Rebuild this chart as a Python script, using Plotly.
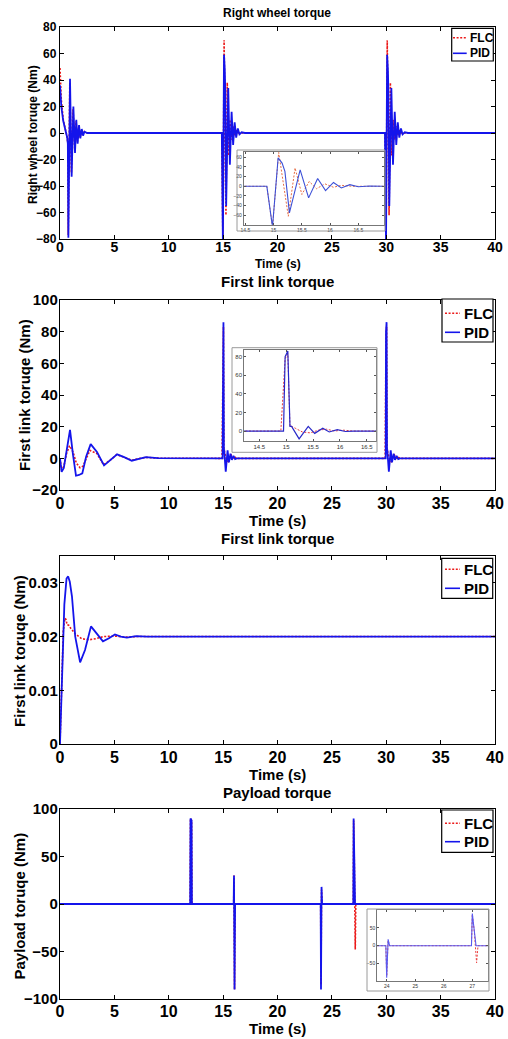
import plotly.graph_objects as go

W, H = 508, 1039
FONT = "Liberation Sans"

# ---------------- data ----------------
x_ticks = [0, 5, 10, 15, 20, 25, 30, 35, 40]

# Right wheel torque: start transient
rw_start_t_flc = [0, 0.12, 0.3, 0.5, 0.65, 0.72, 0.76, 0.9, 1.05, 1.2, 1.35, 1.48, 1.6, 1.72, 1.85, 1.98, 2.1, 2.25, 2.5, 3.0]
rw_start_flc = [49, 25, 10, 3, -3, -8, -77, 38, -30, 18, -13, 9, -7, 5, -3.5, 2.5, -1.5, 1, 0, 0]
rw_start_t_pid = [0, 0.12, 0.3, 0.5, 0.65, 0.72, 0.77, 0.92, 1.07, 1.23, 1.38, 1.5, 1.62, 1.75, 1.87, 2.0, 2.12, 2.25, 2.5, 3.0]
rw_start_pid = [36, 20, 9, 3, -3, -8, -79, 41, -33, 20, -15, 10, -8, 6, -4, 3, -2, 1, 0, 0]
# Right wheel torque: response to each disturbance (time relative to event)
rw_events = [15, 30]
rw_ev_t_flc = [-0.12, -0.02, 0.09, 0.26, 0.38, 0.5, 0.63, 0.76, 0.91, 1.06, 1.2, 1.4, 2.0]
rw_ev_flc = [0, -84, 70, -62, 38, -17, 10, -5, 5, -2, 2, 0, 0]
rw_ev_t_pid = [-0.12, -0.02, 0.08, 0.15, 0.2, 0.28, 0.47, 0.62, 0.78, 0.92, 1.06, 1.2, 1.35, 1.5, 1.7, 2.0]
rw_ev_pid = [0, -84, 59, 48, 31, -55, 34, -24, 16, -9, 8, -3.5, 3.4, -1, 0.5, 0]
rw_y_ticks = [-80, -60, -40, -20, 0, 20, 40, 60, 80]
rw_inset_x_ticks = [14.5, 15, 15.5, 16, 16.5]
rw_inset_y_ticks = [-80, -60, -40, -20, 0, 20, 40, 60]

# First link torque
fl_start_t_flc = [0, 0.15, 0.35, 0.6, 0.88, 1.2, 1.5, 1.84, 2.1, 2.4, 2.75, 3.4, 4.0, 4.65, 5.2, 5.9, 6.6, 7.25, 7.9, 9.0, 10.0]
fl_start_flc = [0, -7.5, -5, 3, 8, 4, -3, -6, -5, 0, 5, 3, -4, -1, 2.3, 0.7, -1.2, -0.2, 0.6, 0.1, 0]
fl_start_t_pid = [0, 0.15, 0.35, 0.6, 0.92, 1.2, 1.47, 1.75, 2.05, 2.4, 2.82, 3.4, 4.05, 4.65, 5.25, 5.9, 6.6, 7.25, 7.9, 9.0, 10.0]
fl_start_pid = [0, -8.5, -6, 5, 18, 2, -11, -10.5, -9.5, 1, 9, 4, -4.5, -1, 2.5, 0.8, -1.5, -0.3, 0.8, 0.1, 0]
fl_events = [15, 30]
fl_ev_t_flc = [-0.5, -0.1, -0.02, 0.03, 0.07, 0.1, 0.17, 0.3, 0.45, 0.6, 0.75, 0.9, 1.05, 1.25, 1.6]
fl_ev_flc = [0, 0, 78, 83, 5, 5, 3, -1, -2, 1, 2, 0, 1, 0, 0]
fl_ev_t_pid = [-0.5, -0.05, -0.02, 0.0, 0.03, 0.07, 0.1, 0.24, 0.41, 0.53, 0.68, 0.8, 0.95, 1.1, 1.25, 1.6]
fl_ev_pid = [0, 0, 80, 82, 86, 5, 5, -8.5, 5, -2.5, 3, -1, 1.5, -0.5, 0, 0]
fl_y_ticks = [-20, 0, 20, 40, 60, 80, 100]
fl_inset_x_ticks = [14.5, 15, 15.5, 16, 16.5]
fl_inset_y_ticks = [0, 20, 40, 60, 80]

# First link torque (small scale)
fs_t_flc = [0, 0.15, 0.3, 0.45, 0.55, 0.65, 0.8, 1.0, 1.4, 2.0, 2.7, 3.3, 4.0, 5.0, 6.0, 7.0, 40]
fs_flc = [0, 0.01, 0.021, 0.0234, 0.0232, 0.0222, 0.0221, 0.0215, 0.0205, 0.0196, 0.0194, 0.0196, 0.02, 0.0201, 0.0199, 0.02, 0.02]
fs_t_pid = [0, 0.2, 0.4, 0.6, 0.75, 0.9, 1.1, 1.4, 1.85, 2.3, 2.85, 3.4, 3.95, 4.5, 5.05, 5.6, 6.15, 7.0, 8.0, 40]
fs_pid = [0, 0.012, 0.026, 0.0308, 0.0312, 0.0302, 0.0275, 0.02, 0.0152, 0.0175, 0.0219, 0.0205, 0.0191, 0.0197, 0.0204, 0.02, 0.0198, 0.0201, 0.02, 0.02]
fs_y_ticks = [0, 0.01, 0.02, 0.03]

# Payload torque
pl_t_flc = [0, 11.97, 12.0, 12.1, 12.13, 15.97, 16.0, 16.05, 16.1, 23.97, 24.0, 24.05, 24.1, 26.97, 27.0, 27.07, 27.15, 27.2, 40]
pl_flc = [0, 0, 90, 88, 0, 0, 30, -90, 0, 0, -85, 15, 0, 0, 88, 40, -48, 0, 0]
pl_t_pid = [0, 11.97, 12.0, 12.1, 12.13, 15.97, 16.0, 16.05, 16.1, 23.97, 24.0, 24.05, 24.1, 26.97, 27.0, 27.08, 27.13, 40]
pl_pid = [0, 0, 90, 88, 0, 0, 30, -90, 0, 0, -90, 18, 0, 0, 90, 35, 0, 0]
pl_y_ticks = [-100, -50, 0, 50, 100]
pl_inset_x_ticks = [24, 25, 26, 27]
pl_inset_y_ticks = [-50, 0, 50]


def with_events(t0, v0, et, ev, events, t_end=40):
    t, v = list(t0), list(v0)
    for e in events:
        t += [e + d for d in et]
        v += list(ev)
    t.append(t_end)
    v.append(v[-1])
    return t, v


rw_flc_t, rw_flc = with_events(rw_start_t_flc, rw_start_flc, rw_ev_t_flc, rw_ev_flc, rw_events)
rw_pid_t, rw_pid = with_events(rw_start_t_pid, rw_start_pid, rw_ev_t_pid, rw_ev_pid, rw_events)
fl_flc_t, fl_flc = with_events(fl_start_t_flc, fl_start_flc, fl_ev_t_flc, fl_ev_flc, fl_events)
fl_pid_t, fl_pid = with_events(fl_start_t_pid, fl_start_pid, fl_ev_t_pid, fl_ev_pid, fl_events)

# ---------------- helpers ----------------
def px(p):
    return p / W


def py(p):
    return 1 - p / H


def bold(size, color="black"):
    return dict(family=FONT, size=size, color=color, weight="bold")


BLUE = "rgb(20,20,235)"
RED = "rgb(235,25,25)"
DOT = "2px,1.6px"

fig = go.Figure()


def add_pair(xa, ya, tf, vf, tp, vp, red=RED, blue=BLUE, wr=1.6, wb=1.8):
    fig.add_trace(go.Scatter(x=tf, y=vf, xaxis=xa, yaxis=ya, mode="lines",
                             line=dict(color=red, width=wr, dash=DOT),
                             showlegend=False, hoverinfo="skip"))
    fig.add_trace(go.Scatter(x=tp, y=vp, xaxis=xa, yaxis=ya, mode="lines",
                             line=dict(color=blue, width=wb),
                             showlegend=False, hoverinfo="skip"))


add_pair("x", "y", rw_flc_t, rw_flc, rw_pid_t, rw_pid)
add_pair("x2", "y2", fl_flc_t, fl_flc, fl_pid_t, fl_pid)
add_pair("x3", "y3", fs_t_flc, fs_flc, fs_t_pid, fs_pid)
add_pair("x4", "y4", pl_t_flc, pl_flc, pl_t_pid, pl_pid)
# insets
add_pair("x5", "y5", rw_flc_t, rw_flc, rw_pid_t, rw_pid,
         red="rgb(230,110,70)", blue="rgb(60,80,215)", wr=1, wb=1.1)
add_pair("x6", "y6", fl_flc_t, fl_flc, fl_pid_t, fl_pid,
         red="rgb(230,60,60)", blue="rgb(40,40,200)", wr=1, wb=1.2)
add_pair("x7", "y7", pl_t_flc, pl_flc, pl_t_pid, pl_pid,
         red="rgb(235,60,60)", blue="rgb(90,90,240)", wr=1, wb=1.1)

layout = dict(width=W, height=H, margin=dict(l=0, r=0, t=0, b=0, pad=0),
              paper_bgcolor="white", plot_bgcolor="white", showlegend=False)


def axis(domain, rng, ticks, font, anchor, lc="black", lw=1.2, tl=4, so=0):
    return dict(domain=domain, range=rng, tickvals=ticks, tickfont=font,
                anchor=anchor, showline=True, linecolor=lc, linewidth=lw,
                mirror="ticks", ticks="inside", ticklen=tl, tickcolor=lc,
                tickwidth=1, showgrid=False, zeroline=False, fixedrange=True,
                automargin=False, ticklabelstandoff=so)


XD = [px(60), px(495)]
mains = [
    (27, 239, [-80, 80], rw_y_ticks, 12, 14, -5, 0),
    (300, 490, [-20, 100], fl_y_ticks, 15, 16, -1, -2),
    (556, 744, [0, 0.035], fs_y_ticks, 15, 16, -1, -2),
    (809, 999, [-100, 100], pl_y_ticks, 15, 16, -2, -2),
]
for i, (top, bot, yr, yt, yf, xf, xso, yso) in enumerate(mains, start=1):
    s = "" if i == 1 else str(i)
    layout["xaxis" + s] = axis(XD, [0, 40], x_ticks, bold(xf), "y" + s, so=xso)
    layout["yaxis" + s] = axis([py(bot), py(top)], yr, yt, bold(yf), "x" + s, so=yso)

insets = [
    (5, (243.7, 383.7), (152, 224.7), [14.47, 16.95], [-79.5, 71], rw_inset_x_ticks, rw_inset_y_ticks, 5),
    (6, (244, 376), (350, 440.7), [14.215, 16.67], [-10.4, 87.2], fl_inset_x_ticks, fl_inset_y_ticks, 6),
    (7, (377, 488), (910, 981), [23.66, 27.55], [-99, 100], pl_inset_x_ticks, pl_inset_y_ticks, 5),
]
for n, (xl, xr), (yt_, yb_), xr_, yr_, xt, ytk, fs in insets:
    f = dict(family=FONT, size=fs, color="#333")
    layout["xaxis%d" % n] = axis([px(xl), px(xr)], xr_, xt, f, "y%d" % n, lc="#555", lw=0.8, tl=2)
    layout["yaxis%d" % n] = axis([py(yb_), py(yt_)], yr_, ytk, f, "x%d" % n, lc="#555", lw=0.8, tl=2)

annotations = []
shapes = []


def text(x, y, s, size, angle=0, xanchor="center"):
    annotations.append(dict(x=px(x), y=py(y), xref="paper", yref="paper", text=s,
                            showarrow=False, font=bold(size), textangle=angle,
                            xanchor=xanchor, yanchor="middle"))


# titles
text(277, 12.5, "Right wheel torque", 12)
text(277, 281, "First link torque", 15)
text(277, 538.5, "First link torque", 15)
text(277, 792, "Payload torque", 15)
# x labels
text(277.5, 264, "Time (s)", 12)
text(277, 520, "Time (s)", 15)
text(277, 774, "Time (s)", 15)
text(277, 1028, "Time (s)", 15)
# y labels
text(33, 135, "Right wheel toruqe (Nm)", 12, angle=-90)
text(24, 395, "First link toruqe (Nm)", 15, angle=-90)
text(19, 651, "First link toruqe (Nm)", 15, angle=-90)
text(18.5, 906, "Payload toruqe (Nm)", 15, angle=-90)

# legends (manual boxes)
legends = [
    ((451.7, 28.3, 493.3, 61), (37.7, 53.3), (453, 466.7), 467.7, 12),
    ((442, 299, 493, 342), (313.3, 332.3), (445, 460), 461.7, 15),
    ((441.7, 558.3, 492.7, 598.3), (569.3, 588.3), (445, 460), 461.7, 15),
    ((441.7, 810, 493, 852.3), (823.3, 841.7), (445, 460), 461.7, 15),
]
for (x0, y0, x1, y1), rows, (sx0, sx1), tx, fsz in legends:
    shapes.append(dict(type="rect", xref="paper", yref="paper", x0=px(x0), x1=px(x1),
                       y0=py(y1), y1=py(y0), line=dict(color="black", width=1.2),
                       fillcolor="white", layer="above"))
    for (lab, col, dash), ry in zip([("FLC", RED, DOT), ("PID", BLUE, "solid")], rows):
        shapes.append(dict(type="line", xref="paper", yref="paper", x0=px(sx0), x1=px(sx1),
                           y0=py(ry), y1=py(ry), line=dict(color=col, width=1.6, dash=dash),
                           layer="above"))
        text(tx, ry, lab, fsz, xanchor="left")

# inset outer frames
for (x0, y0, x1, y1) in [(237, 150, 385, 231), (232, 347.7, 377, 452.3), (367, 909, 489, 991)]:
    shapes.append(dict(type="rect", xref="paper", yref="paper", x0=px(x0), x1=px(x1),
                       y0=py(y1), y1=py(y0), line=dict(color="#9a9a9a", width=1),
                       fillcolor="rgba(0,0,0,0)", layer="above"))

layout["annotations"] = annotations
layout["shapes"] = shapes
fig.update_layout(**layout)
fig.write_html("out.html", config={"displayModeBar": False, "staticPlot": True},
               post_script="document.body.style.margin='0';document.body.style.overflow='hidden';")
